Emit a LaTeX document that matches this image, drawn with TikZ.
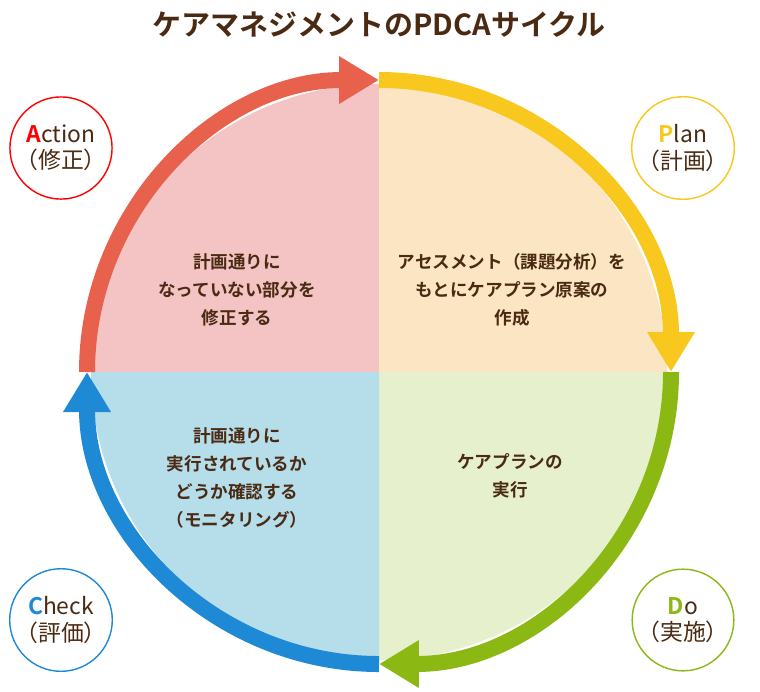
\documentclass[tikz,border=0pt]{standalone}
\usepackage{fontspec}
\usepackage{tikz}
\usetikzlibrary{arrows.meta}
\newfontfamily\jpfont{Noto Sans CJK JP}[BoldFont={* Bold}]
\definecolor{brownText}{HTML}{4A2A12}
\definecolor{actFill}{HTML}{F4C3C3}
\definecolor{actLine}{HTML}{E8614D}
\definecolor{planFill}{HTML}{FCE5C2}
\definecolor{planLine}{HTML}{F8C81F}
\definecolor{doFill}{HTML}{E6F0CD}
\definecolor{doLine}{HTML}{8CB814}
\definecolor{chkFill}{HTML}{B5DDEA}
\definecolor{chkLine}{HTML}{1E8AD6}
\tikzset{
  ring/.style={line width=16*0.02cm, -{Triangle[length=0.8cm,width=0.9cm]}},
  badge/.style={circle, draw=#1, fill=white, line width=0.8pt, minimum size=1.92cm,
    inner sep=0pt, align=center, font=\jpfont\fontsize{13}{15}\selectfont, text=brownText},
  body/.style={align=center, font=\jpfont\bfseries\fontsize{10}{16}\selectfont, text=brownText}
}
\begin{document}
\begin{tikzpicture}[x=0.02cm,y=-0.02cm]
    \useasboundingbox (0,0) rectangle (760,691);
    \coordinate (O) at (379,372);
    % quadrants (y axis points down, so angles run clockwise)
    \fill[actFill] (O) -- ++(180:288) arc[start angle=180,end angle=270,radius=288] -- cycle;
    \fill[planFill] (O) -- ++(270:288) arc[start angle=270,end angle=360,radius=288] -- cycle;
    \fill[doFill] (O) -- ++(0:288) arc[start angle=0,end angle=90,radius=288] -- cycle;
    \fill[chkFill] (O) -- ++(90:288) arc[start angle=90,end angle=180,radius=288] -- cycle;
    % cycle arrows
    \draw[ring, actLine] (O) ++(180:292) arc[start angle=180,end angle=270,radius=292];
    \draw[ring, planLine] (O) ++(270:292) arc[start angle=270,end angle=360,radius=292];
    \draw[ring, doLine] (O) ++(0:292) arc[start angle=0,end angle=90,radius=292];
    \draw[ring, chkLine] (O) ++(90:292) arc[start angle=90,end angle=180,radius=292];
    % title
    \node[font=\jpfont\bfseries\fontsize{16.5}{18}\selectfont, text=brownText] (title) at (379,24) {ケアマネジメントのPDCAサイクル};
    % badges
    \node[badge=red] (act) at (61,148) {{\bfseries\color{red}A}ction\\（修正）};
    \node[badge=planLine] (plan) at (683,148) {{\bfseries\color{planLine}P}lan\\（計画）};
    \node[badge=doLine] (do) at (683,620) {{\bfseries\color{doLine}D}o\\（実施）};
    \node[badge=chkLine] (chk) at (61,620) {{\bfseries\color{chkLine}C}heck\\（評価）};
    % texts
    \node[body] (actTxt) at (237,290) {計画通りに\\なっていない部分を\\修正する};
    \node[body] (planTxt) at (512,290) {アセスメント（課題分析）を\\もとにケアプラン原案の\\作成};
    \node[body] (chkTxt) at (237,478) {計画通りに\\実行されているか\\どうか確認する\\（モニタリング）};
    \node[body] (doTxt) at (510,476) {ケアプランの\\実行};
\end{tikzpicture}
\end{document}
